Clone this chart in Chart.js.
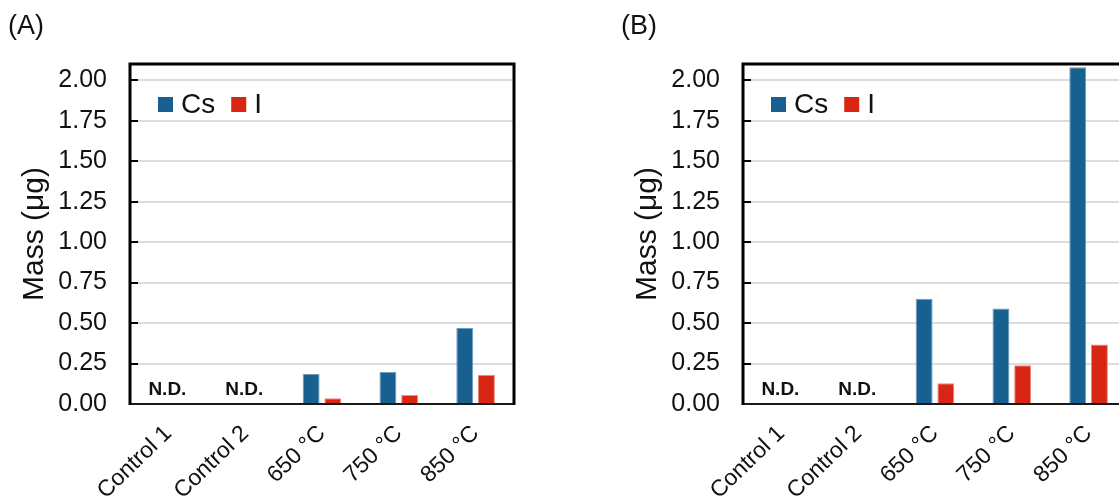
<!DOCTYPE html>
<html><head><meta charset="utf-8">
<script src="https://cdn.jsdelivr.net/npm/chart.js@4"></script>
<style>
html,body{margin:0;padding:0;background:#fff;width:1119px;height:501px;overflow:hidden;position:relative}
.wrap{position:absolute;top:0;width:560px;height:501px}
.lab{position:absolute;font-family:"Liberation Sans",Arial,sans-serif;font-size:27px;color:#111;line-height:1}
</style></head><body>
<div class="wrap" style="left:0"><canvas id="cA" width="560" height="501"></canvas></div>
<div class="wrap" style="left:613px"><canvas id="cB" width="560" height="501"></canvas></div>
<div class="lab" style="left:8px;top:12px">(A)</div>
<div class="lab" style="left:621px;top:12px">(B)</div>
<script>
const categories = ['Control 1', 'Control 2', '650 °C', '750 °C', '850 °C'];
const seriesNames = ['Cs', 'I'];
const csA = [null, null, 0.185, 0.197, 0.47];
const iA  = [null, null, 0.035, 0.055, 0.18];
const csB = [null, null, 0.65, 0.59, 2.08];
const iB  = [null, null, 0.128, 0.24, 0.368];
const yTicks = [0, 0.25, 0.5, 0.75, 1.0, 1.25, 1.5, 1.75, 2.0];
const yMax = 2.1;
const ndLabels = ['N.D.', 'N.D.', '', '', ''];
const axisTitle = 'Mass (μg)';

const FONT = '"Liberation Sans", Arial, sans-serif';
const BLUE = '#17608f', RED = '#d72614';

const decor = {
  id: 'decor',
  afterDraw(chart) {
    const {ctx, chartArea: a, scales: {x, y}} = chart;
    ctx.save();
    ctx.strokeStyle = '#000'; ctx.lineWidth = 2;
    y.ticks.forEach(t => {
      const py = Math.round(y.getPixelForValue(t.value));
      ctx.beginPath(); ctx.moveTo(a.left, py); ctx.lineTo(a.left + 8, py); ctx.stroke();
    });
    ctx.strokeStyle = '#1a1a1a'; ctx.lineWidth = 2;
    ctx.beginPath(); ctx.moveTo(a.left, a.bottom); ctx.lineTo(a.right, a.bottom); ctx.stroke();
    ctx.strokeStyle = '#000'; ctx.lineWidth = 3; ctx.lineJoin = 'miter';
    ctx.beginPath(); ctx.moveTo(a.left, a.bottom + 1); ctx.lineTo(a.left, a.top); ctx.lineTo(a.right, a.top); ctx.lineTo(a.right, a.bottom + 1); ctx.stroke();
    ctx.font = 'bold 19px ' + FONT; ctx.fillStyle = '#111';
    ctx.textAlign = 'center'; ctx.textBaseline = 'middle';
    ndLabels.forEach((s, i) => { if (s) ctx.fillText(s, x.getPixelForValue(i) - 1, y.getPixelForValue(0) - 14); });
    // legend
    let lx = a.left + 28; const ly = 97;
    ctx.font = '28px ' + FONT; ctx.textAlign = 'left';
    chart.data.datasets.forEach(ds => {
      ctx.fillStyle = ds.backgroundColor;
      ctx.fillRect(lx, ly, 15, 15);
      ctx.fillStyle = '#111';
      ctx.fillText(ds.label, lx + 23, ly + 8);
      lx += 23 + ctx.measureText(ds.label).width + 16;
    });
    ctx.restore();
  }
};

function makeChart(id, cs, io) {
  return new Chart(document.getElementById(id), {
    type: 'bar',
    data: {
      labels: categories,
      datasets: [
        {label: seriesNames[0], data: cs, backgroundColor: BLUE, borderColor: '#6f9cc0', borderWidth: 1},
        {label: seriesNames[1], data: io, backgroundColor: RED, borderColor: '#ee8a80', borderWidth: 1}
      ]
    },
    options: {
      responsive: false, animation: false, devicePixelRatio: 1,
      categoryPercentage: 0.565, barPercentage: 0.78,
      layout: {padding: {left: 0, top: 64, right: 46, bottom: 0}},
      plugins: {legend: {display: false}, tooltip: {enabled: false}},
      scales: {
        x: {
          grid: {display: false}, border: {display: false},
          ticks: {font: {family: FONT, size: 23}, color: '#111', minRotation: 44, maxRotation: 44, padding: 8, autoSkip: false},
          afterFit: s => { s.height = 97; }
        },
        y: {
          min: 0, max: yMax,
          afterBuildTicks: s => { s.ticks = yTicks.map(v => ({value: v})); },
          grid: {color: '#dcdcdc', lineWidth: 2, drawTicks: false},
          border: {display: false},
          ticks: {font: {family: FONT, size: 25}, color: '#111', padding: 23, callback: v => Number(v).toFixed(2)},
          title: {display: true, text: axisTitle, font: {family: FONT, size: 30}, color: '#111', padding: {top: 17, bottom: 0}},
          afterFit: s => { s.width = 130; }
        }
      }
    },
    plugins: [decor]
  });
}
makeChart('cA', csA, iA);
makeChart('cB', csB, iB);
</script>
</body></html>
